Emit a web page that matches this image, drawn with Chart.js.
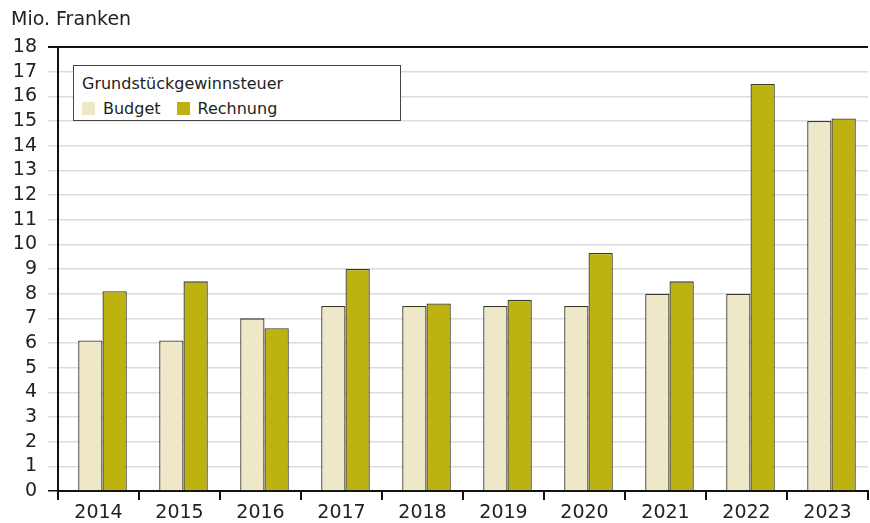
<!DOCTYPE html>
<html>
<head>
<meta charset="utf-8">
<script src="https://cdn.jsdelivr.net/npm/chart.js@4.4.1/dist/chart.umd.min.js"></script>
<style>
  body { margin: 0; background: #fff; }
  #wrap { position: relative; width: 870px; height: 523px; font-family: "DejaVu Sans", Verdana, sans-serif; color: #222; }
  #unit { position: absolute; left: 11px; top: 7px; font-size: 19px; }
  #legend { position: absolute; left: 73px; top: 65px; width: 328px; height: 56px; border: 1px solid #444; background: #fff; font-size: 16px; box-sizing: border-box; }
  #legend .title { position: absolute; left: 8px; top: 8px; }
  #legend .items { position: absolute; left: 8px; top: 33px; display: flex; }
  #legend .item { display: flex; align-items: center; margin-right: 16px; }
  #legend .box { width: 13px; height: 13px; margin-right: 8px; }
</style>
</head>
<body>
<div id="wrap">
  <canvas id="chart" width="870" height="523"></canvas>
  <div id="unit">Mio. Franken</div>
  <div id="legend"><div class="title"></div><div class="items"></div></div>
</div>
<script>
// chart data
const years = ['2014', '2015', '2016', '2017', '2018', '2019', '2020', '2021', '2022', '2023'];
const budget = [6.1, 6.1, 7.0, 7.5, 7.5, 7.5, 7.5, 8.0, 8.0, 15.0];
const rechnung = [8.1, 8.5, 6.6, 9.0, 7.6, 7.75, 9.65, 8.5, 16.5, 15.1];
const seriesNames = ['Budget', 'Rechnung'];
const legendTitle = 'Grundstückgewinnsteuer';
const yTicks = [0, 18, 1]; // min, max, step

const colors = ['#EEE8C9', '#BEB210'];
const fontFamily = '"DejaVu Sans", Verdana, sans-serif';

const datasets = [budget, rechnung].map((values, i) => ({
    label: seriesNames[i],
    data: values,
    backgroundColor: colors[i],
    borderColor: '#3a3a28',
    borderWidth: 1.3,
    borderSkipped: 'bottom',
    categoryPercentage: 0.6,
    barPercentage: 1.0
}));

// html legend built from the datasets
document.querySelector('#legend .title').textContent = legendTitle;
const items = document.querySelector('#legend .items');
datasets.forEach(ds => {
    const el = document.createElement('div');
    el.className = 'item';
    el.innerHTML = `<span class="box" style="background:${ds.backgroundColor}"></span>${ds.label}`;
    items.appendChild(el);
});

// bar groups sit slightly right of the category centre in the original
const barShift = {
    id: 'barShift',
    beforeDatasetsDraw(chart) { chart.ctx.save(); chart.ctx.translate(4, 0); },
    afterDatasetsDraw(chart) { chart.ctx.restore(); }
};

const ctx = document.getElementById('chart').getContext('2d');
new Chart(ctx, {
    type: 'bar',
    data: { labels: years, datasets },
    plugins: [barShift],
    options: {
        responsive: false,
        animation: false,
        layout: { padding: { top: 47, right: 2, left: 0, bottom: 0 } },
        plugins: {
            legend: { display: false },
            tooltip: { enabled: false }
        },
        scales: {
            x: {
                offset: true,
                afterFit: s => { s.height = 32; },
                grid: {
                    offset: true,
                    drawOnChartArea: false,
                    drawTicks: true,
                    tickLength: 9,
                    color: '#111',
                    lineWidth: 2
                },
                border: { display: true, color: '#111', width: 2 },
                ticks: {
                    color: '#222',
                    font: { family: fontFamily, size: 19 },
                    padding: 2,
                    maxRotation: 0,
                    autoSkip: false
                }
            },
            y: {
                min: yTicks[0],
                max: yTicks[1],
                afterFit: s => { s.width = 58; },
                grid: {
                    color: c => (c.tick && (c.tick.value === 18 || c.tick.value === 0)) ? '#111' : '#dcdcdc',
                    lineWidth: c => (c.tick && c.tick.value === 18) ? 2 : 1.5,
                    tickLength: 10
                },
                border: { display: true, color: '#111', width: 2 },
                ticks: {
                    stepSize: yTicks[2],
                    autoSkip: false,
                    color: '#222',
                    padding: 11,
                    font: { family: fontFamily, size: 19 }
                }
            }
        }
    }
});
</script>
</body>
</html>
